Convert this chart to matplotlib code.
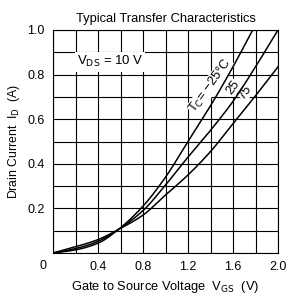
import numpy as np
import matplotlib
matplotlib.use("Agg")
from matplotlib import pyplot as plt

plt.rcParams['font.family'] = ['Liberation Sans', 'DejaVu Sans']

# values (Vgs in V, Id in A)
vgs_m25 = [0.0, 0.2, 0.4, 0.58, 0.8, 1.0, 1.2, 1.4, 1.6, 1.775]
id_m25 = [0.0, 0.014, 0.044, 0.105, 0.21, 0.34, 0.50, 0.66, 0.835, 1.0]
vgs_25 = [0.0, 0.2, 0.4, 0.58, 0.8, 1.0, 1.2, 1.4, 1.6, 1.8, 2.0]
id_25 = [0.0, 0.020, 0.052, 0.105, 0.19, 0.305, 0.43, 0.55, 0.68, 0.835, 1.0]
vgs_75 = [0.0, 0.2, 0.4, 0.58, 0.8, 1.0, 1.2, 1.4, 1.6, 1.8, 2.0]
id_75 = [0.0, 0.028, 0.060, 0.105, 0.17, 0.26, 0.35, 0.455, 0.58, 0.705, 0.835]

xticks = [0.4, 0.8, 1.2, 1.6, 2.0]
yticks = [0.2, 0.4, 0.6, 0.8, 1.0]


def pchip(x, y, xf):
    # monotone cubic hermite, only to draw a smooth line through the read points
    x = np.asarray(x, float)
    y = np.asarray(y, float)
    h = np.diff(x)
    d = np.diff(y) / h
    m = np.zeros_like(y)
    for i in range(1, len(y) - 1):
        if d[i - 1] * d[i] > 0:
            w1 = 2 * h[i] + h[i - 1]
            w2 = h[i] + 2 * h[i - 1]
            m[i] = (w1 + w2) / (w1 / d[i - 1] + w2 / d[i])
    m[0] = d[0]
    m[-1] = d[-1]
    idx = np.clip(np.searchsorted(x, xf) - 1, 0, len(h) - 1)
    t = (xf - x[idx]) / h[idx]
    h00 = 2 * t**3 - 3 * t**2 + 1
    h10 = t**3 - 2 * t**2 + t
    h01 = -2 * t**3 + 3 * t**2
    h11 = t**3 - t**2
    return h00 * y[idx] + h10 * h[idx] * m[idx] + h01 * y[idx + 1] + h11 * h[idx] * m[idx + 1]


fig = plt.figure(figsize=(2.99, 3.0), dpi=100)
ax = fig.add_axes([53/299, 47/300, 225/299, 223/300])

for xs, ys in ((vgs_m25, id_m25), (vgs_25, id_25), (vgs_75, id_75)):
    xf = np.linspace(xs[0], xs[-1], 300)
    ax.plot(xf, pchip(xs, ys, xf), color='black', lw=1.1, zorder=3)

ax.set_xlim(0, 2.0)
ax.set_ylim(0, 1.0)
xgrid = np.arange(0, 2.01, 0.2)
ygrid = np.arange(0, 1.01, 0.1)
ax.set_xticks(xgrid)
ax.set_yticks(ygrid)
ax.grid(True, color='black', lw=0.8)
ax.set_xticklabels([f'{t:.1f}' if round(t, 1) in xticks else '' for t in xgrid])
ax.set_yticklabels([f'{t:.1f}' if round(t, 1) in yticks else '' for t in ygrid])
ax.tick_params(length=0, labelsize=9, pad=6)
for s in ax.spines.values():
    s.set_linewidth(0.8)
ax.text(-0.06, -0.03, '0', ha='right', va='top', fontsize=9)

ax.set_title('Typical Transfer Characteristics', fontsize=9.3, pad=6)
ax.set_xlabel('Gate to Source Voltage  V$_{\\rm GS}$  (V)', fontsize=9.3, labelpad=4)
ax.set_ylabel('Drain Current  I$_{\\rm D}$  (A)', fontsize=8.8, labelpad=4)

ax.text(0.21, 0.857, 'V$_{\\rm DS}$ = 10 V', fontsize=9.5, va='center', zorder=2.5,
        bbox=dict(facecolor='white', edgecolor='none', pad=1.5))
box = dict(facecolor='white', edgecolor='none', pad=0.2)
ax.text(1.40, 0.75, 'T$_{\\rm C}$= \u221225\u00b0C', fontsize=9.3, rotation=54,
        ha='center', va='center', zorder=2.5, bbox=box)
ax.text(1.60, 0.742, '25', fontsize=9.3, rotation=54, ha='center', va='center',
        zorder=2.5, bbox=box)
ax.text(1.712, 0.72, '75', fontsize=9.3, rotation=54, ha='center', va='center',
        zorder=2.5, bbox=box)

fig.savefig('out.png', dpi=100)
